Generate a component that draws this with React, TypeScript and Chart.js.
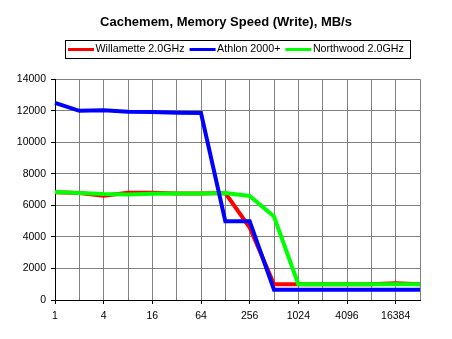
import { useEffect, useRef } from "react";
import { Chart, registerables } from "chart.js";

Chart.register(...registerables);

const categories = ["1", "2", "4", "8", "16", "32", "64", "128", "256", "512", "1024", "2048", "4096", "8192", "16384", "32768"];
const willamette = [6840, 6780, 6620, 6800, 6800, 6760, 6760, 6780, 4600, 1000, 1000, 1000, 1000, 1000, 1060, 1000];
const athlon = [12500, 12000, 12030, 11940, 11920, 11880, 11860, 5000, 5000, 650, 650, 650, 650, 650, 650, 650];
const northwood = [6850, 6780, 6720, 6700, 6740, 6760, 6760, 6780, 6600, 5300, 1000, 1000, 1000, 1000, 1000, 1000];
const seriesNames = ["Willamette 2.0GHz", "Athlon 2000+", "Northwood 2.0GHz"];
const seriesColors = ["#ff0000", "#0000ff", "#00ff00"];
const titleText = "Cachemem, Memory Speed (Write), MB/s";
const yMin = 0;
const yMax = 14000;
const yStep = 2000;

const FONT = '"Liberation Sans", Arial, sans-serif';

const boxedLegend = {
  id: "boxedLegend",
  afterDraw(chart: any) {
    const ctx = chart.ctx;
    const area = chart.chartArea;
    ctx.save();
    ctx.font = `10.7px ${FONT}`;
    const sw = 26;
    const gapText = 1.5;
    const gapItem = 5;
    const padL = 3;
    const padR = 6;
    const items = chart.data.datasets.map((ds: any) => ({
      label: ds.label,
      color: ds.borderColor,
      w: ctx.measureText(ds.label).width,
    }));
    let total = padL + padR;
    items.forEach((it: any, i: number) => {
      total += sw + gapText + it.w + (i > 0 ? gapItem : 0);
    });
    const cx = (area.left + area.right) / 2;
    const left = Math.round(cx - total / 2);
    const top = 41;
    const h = 18;
    ctx.strokeStyle = "#000";
    ctx.lineWidth = 1;
    ctx.strokeRect(left + 0.5, top - 0.5, Math.round(total), h);
    let x = left + padL;
    const cy = top + 8.5;
    ctx.textBaseline = "middle";
    ctx.textAlign = "left";
    items.forEach((it: any, i: number) => {
      if (i > 0) x += gapItem;
      ctx.fillStyle = it.color;
      ctx.fillRect(x, cy - 1.5, sw, 3);
      x += sw + gapText;
      ctx.fillStyle = "#000";
      ctx.fillText(it.label, x, cy);
      x += it.w;
    });
    ctx.restore();
  },
};

export default function App() {
  const ref = useRef<HTMLCanvasElement | null>(null);
  useEffect(() => {
    document.body.style.margin = "0";
    const canvas = ref.current;
    if (!canvas) return;
    const chart = new Chart(canvas, {
      type: "line",
      data: {
        labels: categories,
        datasets: [
          { label: seriesNames[0], data: willamette, borderColor: seriesColors[0], backgroundColor: seriesColors[0], order: 2 },
          { label: seriesNames[1], data: athlon, borderColor: seriesColors[1], backgroundColor: seriesColors[1], order: 0 },
          { label: seriesNames[2], data: northwood, borderColor: seriesColors[2], backgroundColor: seriesColors[2], order: 1 },
        ],
      },
      options: {
        responsive: false,
        animation: false,
        devicePixelRatio: 1,
        layout: { padding: { left: 0, right: 0, top: 0, bottom: 0 } },
        elements: {
          point: { radius: 0, hoverRadius: 0 },
          line: { borderWidth: 4, tension: 0, fill: false },
        },
        plugins: {
          legend: { display: false },
          tooltip: { enabled: false },
          title: {
            display: true,
            text: titleText,
            color: "#000",
            font: { family: FONT, size: 13, weight: "bold" },
            padding: { top: 15, bottom: 48.7 },
          },
        },
        scales: {
          x: {
            type: "category",
            offset: false,
            grid: {
              color: "#808080",
              lineWidth: 1,
              drawTicks: true,
              tickLength: 4,
              tickColor: (c: any) => (c.index % 2 === 0 ? "#000" : "rgba(0,0,0,0)"),
            },
            border: { color: "#000", width: 1 },
            ticks: {
              autoSkip: false,
              maxRotation: 0,
              color: "#000",
              font: { family: FONT, size: 10.5 },
              padding: 6,
              callback: (_v: any, i: number) => (i % 2 === 0 ? categories[i] : ""),
            },
            afterFit: (s: any) => {
              s.height = 39;
            },
          },
          y: {
            min: yMin,
            max: yMax,
            grid: { color: "#808080", lineWidth: 1, tickLength: 4, tickColor: "#000" },
            border: { color: "#000", width: 1 },
            ticks: {
              stepSize: yStep,
              color: "#000",
              font: { family: FONT, size: 10.5 },
              padding: 5,
              callback: (v: any) => String(v),
            },
            afterFit: (s: any) => {
              s.width = 55;
            },
          },
          yRight: {
            position: "right",
            min: yMin,
            max: yMax,
            grid: { drawOnChartArea: false, drawTicks: false },
            border: { display: false },
            ticks: { display: false },
            afterFit: (s: any) => {
              s.width = 32;
            },
          },
        },
      },
      plugins: [boxedLegend],
    });
    return () => chart.destroy();
  }, []);
  return <canvas ref={ref} width={452} height={339} style={{ display: "block" }} />;
}
